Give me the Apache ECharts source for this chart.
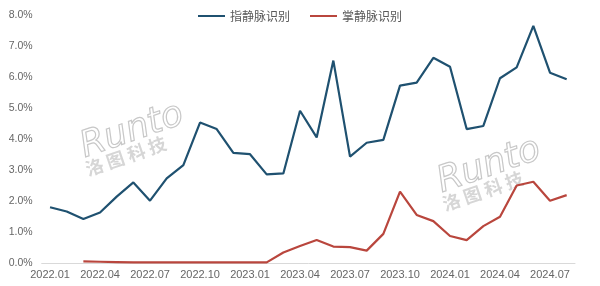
<!DOCTYPE html>
<html><head><meta charset="utf-8">
<script src="https://cdn.jsdelivr.net/npm/echarts@6/dist/echarts.min.js"></script>
<style>html,body{margin:0;padding:0;background:#fff}#c{width:600px;height:286px}</style>
</head><body><div id="c"></div>
<script>
const categories = ['2022.01','2022.02','2022.03','2022.04','2022.05','2022.06','2022.07','2022.08','2022.09','2022.10','2022.11','2022.12',
'2023.01','2023.02','2023.03','2023.04','2023.05','2023.06','2023.07','2023.08','2023.09','2023.10','2023.11','2023.12',
'2024.01','2024.02','2024.03','2024.04','2024.05','2024.06','2024.07','2024.08'];
const fingerVein = [1.80,1.66,1.42,1.63,2.14,2.60,2.01,2.73,3.16,4.53,4.32,3.55,3.51,2.86,2.89,4.91,4.05,6.53,3.43,3.88,3.97,5.72,5.82,6.62,6.33,4.32,4.42,5.96,6.31,7.65,6.14,5.93];
const palmVein = [null,null,0.05,0.04,0.03,0.02,0.02,0.02,0.02,0.02,0.02,0.02,0.02,0.02,0.34,0.55,0.74,0.53,0.51,0.40,0.94,2.30,1.55,1.35,0.87,0.74,1.19,1.49,2.50,2.62,2.01,2.19];
const seriesNames = ['指静脉识别','掌静脉识别'];
const yTicks = {min:0, max:8, interval:1};

const chart = echarts.init(document.getElementById('c'));
const wm = (x,y) => ([
  {type:'text', left:x, top:y, rotation:0.33, z:-1, silent:true,
   style:{text:'Runto', fontSize:36, fontStyle:'italic', fontFamily:'DejaVu Sans', fill:'rgba(0,0,0,0)', stroke:'#c8c8c8', lineWidth:1.2}},
  {type:'text', left:x+8, top:y+38, rotation:0.33, z:-1, silent:true,
   style:{text:'洛 图 科 技', fontSize:18, fontWeight:'bold', fontFamily:'Noto Sans CJK SC', fill:'#d6d6d6'}}
]);
chart.setOption({
  animation:false,
  textStyle:{fontFamily:'Noto Sans CJK SC, Noto Sans, sans-serif'},
  graphic: wm(75,96).concat(wm(432,131)),
  legend:{top:5, left:'center', itemWidth:27, itemHeight:2, icon:'rect', itemGap:20,
    textStyle:{color:'#595959', fontSize:12}, data:seriesNames},
  grid:{left:41.7, right:25, top:15, bottom:23, containLabel:false},
  xAxis:{type:'category', data:categories, boundaryGap:true,
    axisLine:{lineStyle:{color:'#d9d9d9'}}, axisTick:{show:false},
    axisLabel:{interval:2, color:'#666', fontSize:11, margin:6, fontFamily:'Liberation Sans'}},
  yAxis:{type:'value', min:yTicks.min, max:yTicks.max, interval:yTicks.interval,
    axisLine:{show:false}, axisTick:{show:false}, splitLine:{show:false},
    axisLabel:{color:'#666', fontSize:10.5, margin:9, fontFamily:'Liberation Sans', formatter:v=>v.toFixed(1)+'%'}},
  series:[
    {name:seriesNames[0], type:'line', data:fingerVein, symbol:'none', lineStyle:{color:'#1f5170', width:2.2}, itemStyle:{color:'#1f5170'}},
    {name:seriesNames[1], type:'line', data:palmVein, symbol:'none', lineStyle:{color:'#b9463d', width:2.2}, itemStyle:{color:'#b9463d'}}
  ]
});
</script></body></html>
